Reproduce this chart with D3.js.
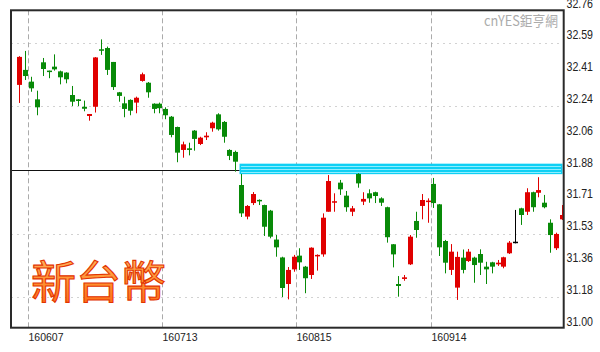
<!DOCTYPE html>
<html><head><meta charset="utf-8">
<script src="https://cdn.jsdelivr.net/npm/d3@7"></script>
<style>body{margin:0;background:#fff}svg{display:block}</style>
</head><body>
<script>
// ---- data ----
const opens  = [32.351,32.434,32.369,32.271,32.476,32.430,32.452,32.426,32.419,32.295,32.271,32.230,32.179,32.230,32.548,32.555,32.478,32.310,32.249,32.268,32.253,32.373,32.363,32.247,32.247,32.218,32.175,32.118,31.991,32.000,32.098,32.024,32.061,32.111,32.188,32.146,31.991,31.980,31.797,31.622,31.697,31.714,31.686,31.655,31.495,31.396,31.249,31.330,31.406,31.345,31.299,31.402,31.413,31.649,31.699,31.810,31.738,31.649,31.858,31.705,31.751,31.757,31.723,31.674,31.469,31.249,31.277,31.358,31.598,31.681,31.703,31.803,31.690,31.487,31.327,31.229,31.395,31.376,31.395,31.415,31.345,31.369,31.358,31.345,31.419,31.479,31.668,31.649,31.757,31.754,31.699,31.588,31.447,31.607];
const highs  = [32.510,32.539,32.396,32.319,32.500,32.430,32.520,32.430,32.421,32.345,32.273,32.264,32.190,32.505,32.603,32.563,32.478,32.312,32.286,32.271,32.286,32.419,32.367,32.249,32.253,32.227,32.179,32.120,32.037,32.031,32.101,32.064,32.089,32.147,32.194,32.151,31.995,31.987,31.858,31.686,31.758,31.717,31.688,31.659,31.520,31.400,31.343,31.410,31.447,31.349,31.452,31.413,31.640,31.852,31.751,31.825,31.764,31.681,31.862,31.757,31.773,31.760,31.729,31.677,31.470,31.293,31.299,31.520,31.649,31.747,31.723,31.836,31.692,31.493,31.470,31.428,31.440,31.443,31.400,31.441,31.372,31.372,31.382,31.400,31.487,31.659,31.671,31.779,31.760,31.840,31.742,31.607,31.533,31.686];
const lows   = [32.251,32.378,32.313,32.183,32.400,32.388,32.430,32.354,32.360,32.234,32.234,32.205,32.153,32.198,32.517,32.406,32.323,32.258,32.172,32.183,32.194,32.369,32.280,32.194,32.194,32.161,32.061,31.923,31.948,31.961,31.987,32.018,32.046,32.092,32.098,32.031,31.935,31.871,31.620,31.607,31.686,31.686,31.515,31.502,31.400,31.177,31.164,31.317,31.327,31.198,31.277,31.323,31.400,31.649,31.649,31.742,31.649,31.625,31.782,31.686,31.699,31.697,31.681,31.478,31.341,31.179,31.267,31.354,31.505,31.607,31.588,31.670,31.404,31.308,31.299,31.161,31.308,31.371,31.256,31.299,31.249,31.308,31.349,31.336,31.415,31.474,31.576,31.631,31.649,31.729,31.668,31.422,31.437,31.603];
const closes = [32.506,32.400,32.332,32.227,32.439,32.422,32.437,32.393,32.382,32.258,32.262,32.219,32.190,32.503,32.540,32.434,32.339,32.290,32.218,32.208,32.280,32.410,32.310,32.218,32.222,32.183,32.074,31.976,32.022,31.991,32.052,32.059,32.070,32.142,32.105,32.064,31.958,31.926,31.640,31.681,31.747,31.707,31.566,31.511,31.452,31.227,31.327,31.400,31.369,31.281,31.450,31.410,31.616,31.819,31.707,31.773,31.674,31.668,31.806,31.720,31.723,31.736,31.699,31.508,31.413,31.238,31.286,31.511,31.548,31.714,31.710,31.697,31.452,31.367,31.428,31.399,31.327,31.428,31.354,31.367,31.330,31.345,31.367,31.397,31.478,31.479,31.631,31.757,31.674,31.769,31.674,31.520,31.526,31.631];

const xTickLabels = ["160607","160713","160815","160914"];
const xTickIndex  = [2,25,48,71];
const yTickValues = [31.00,31.176,31.352,31.528,31.704,31.88,32.056,32.232,32.408,32.584,32.76];
const yTickLabels = ["31.00","31.18","31.36","31.53","31.71","31.88","32.06","32.24","32.41","32.59","32.76"];
const yGridValues = [31.176,31.528,31.88,32.232,32.584];
const refLine  = 31.88;          // black horizontal line
const gapBand  = [31.857,31.915]; // cyan band
const gapStart = 38;             // candle index where band starts
const titleText = "新台幣";
const watermark = "cnYES鉅亨網";

// ---- drawing ----
const W = 600, H = 352;
const plot = {l: 11, r: 563.7, t: 10.3, b: 327.7};
const svg = d3.select("body").append("svg").attr("width", W).attr("height", H);

const idx = d3.range(opens.length);
const x = d3.scaleBand().domain(idx).range([16.58, 16.58 + 5.83 * opens.length]).paddingInner(0).paddingOuter(0);
const y = d3.scaleLinear().domain([31.00, 32.76]).range([329, 11]);

const defs = svg.append("defs");
defs.append("clipPath").attr("id", "clip").append("rect")
  .attr("x", plot.l).attr("y", plot.t).attr("width", plot.r - plot.l).attr("height", plot.b - plot.t);
const grad = defs.append("linearGradient").attr("id", "tg").attr("x1", 0).attr("y1", 0).attr("x2", 0).attr("y2", 1);
grad.append("stop").attr("offset", "0%").attr("stop-color", "#ffc070");
grad.append("stop").attr("offset", "55%").attr("stop-color", "#ff9030");
grad.append("stop").attr("offset", "100%").attr("stop-color", "#ff6010");

svg.append("rect").attr("width", W).attr("height", H).attr("fill", "#fff");

const g = svg.append("g").attr("clip-path", "url(#clip)");

// horizontal dotted grid
g.selectAll("line.hg").data(yGridValues).join("line")
  .attr("x1", plot.l).attr("x2", plot.r)
  .attr("y1", d => Math.round(y(d)) + 0.5).attr("y2", d => Math.round(y(d)) + 0.5)
  .attr("stroke", "#d2d2d2").attr("stroke-width", 1).attr("stroke-dasharray", "2,4");

// vertical dashed grid
g.selectAll("line.vg").data(xTickIndex).join("line")
  .attr("x1", d => Math.round(x(d)) + 0.5).attr("x2", d => Math.round(x(d)) + 0.5)
  .attr("y1", plot.t).attr("y2", plot.b)
  .attr("stroke", "#ababab").attr("stroke-width", 1).attr("stroke-dasharray", "5,3");

// title text
svg.append("text").attr("x", 31).attr("y", 299)
  .attr("font-family", "'Noto Sans CJK TC','Noto Sans CJK SC',sans-serif")
  .attr("font-size", 45).attr("fill", "url(#tg)")
  .attr("stroke", "#e23400").attr("stroke-width", 1.1)
  .text(titleText);

// reference line and band
const bandX0 = x(gapStart) + x.bandwidth() / 2 - 1.5;
g.append("line").attr("x1", plot.l).attr("x2", bandX0)
  .attr("y1", Math.round(y(refLine)) + 0.5).attr("y2", Math.round(y(refLine)) + 0.5)
  .attr("stroke", "#111").attr("stroke-width", 1);
const by0 = y(gapBand[1]), by1 = y(gapBand[0]);
g.append("rect").attr("x", bandX0).attr("y", by0).attr("width", 562.5 - bandX0).attr("height", by1 - by0)
  .attr("fill", "#0fd0f4");
g.selectAll("line.bs").data(d3.range(by0 + 2, by1 - 1, 3)).join("line")
  .attr("x1", bandX0 + 1.5).attr("x2", 561)
  .attr("y1", d => Math.round(d) + 0.5).attr("y2", d => Math.round(d) + 0.5)
  .attr("stroke", "#8eeeff").attr("stroke-width", 1);

// candles
const color = i => closes[i] > opens[i] ? "#e00000" : (closes[i] < opens[i] ? "#088a08" : "#000");
const cx = i => Math.round(x(i) + x.bandwidth() / 2) + 0.5;
const cg = g.append("g");
cg.selectAll("line.w").data(idx).join("line")
  .attr("x1", cx).attr("x2", cx)
  .attr("y1", i => y(highs[i])).attr("y2", i => y(lows[i]))
  .attr("stroke", color).attr("stroke-width", 1);
cg.selectAll("rect.b").data(idx).join("rect")
  .attr("x", i => cx(i) - 2.5).attr("width", 5)
  .attr("y", i => {
    const a = y(Math.max(opens[i], closes[i])), b = y(Math.min(opens[i], closes[i]));
    return (b - a) < 1.5 ? (a + b) / 2 - 0.75 : a;
  })
  .attr("height", i => Math.max(1.5, y(Math.min(opens[i], closes[i])) - y(Math.max(opens[i], closes[i]))))
  .attr("fill", color);

// frame
svg.append("rect").attr("x", plot.l).attr("y", plot.t).attr("width", plot.r - plot.l).attr("height", plot.b - plot.t)
  .attr("fill", "none").attr("stroke", "#2a2a2a").attr("stroke-width", 2);

// watermark
svg.append("text").attr("x", 558).attr("y", 26).attr("text-anchor", "end")
  .attr("font-family", "'Noto Sans CJK TC',sans-serif").attr("font-size", 14)
  .attr("fill", "#ababab").attr("textLength", 74).attr("lengthAdjust", "spacingAndGlyphs")
  .text(watermark);

// y axis labels
svg.selectAll("text.yl").data(yTickValues).join("text")
  .attr("x", 566.5).attr("y", d => y(d) - 3.5)
  .attr("font-family", "'Liberation Sans Narrow','Arial Narrow','Liberation Sans',Arial,sans-serif")
  .attr("font-size", 13).attr("fill", "#222")
  .attr("textLength", 26.5).attr("lengthAdjust", "spacingAndGlyphs")
  .text((d, i) => yTickLabels[i]);

// x axis labels
svg.selectAll("text.xl").data(xTickIndex).join("text")
  .attr("x", d => Math.round(x(d)) + 0.5).attr("y", 341)
  .attr("font-family", "'Liberation Sans','Arial',sans-serif")
  .attr("font-size", 11).attr("fill", "#222")
  .attr("textLength", 35).attr("lengthAdjust", "spacingAndGlyphs")
  .text((d, i) => xTickLabels[i]);
</script>
</body></html>
